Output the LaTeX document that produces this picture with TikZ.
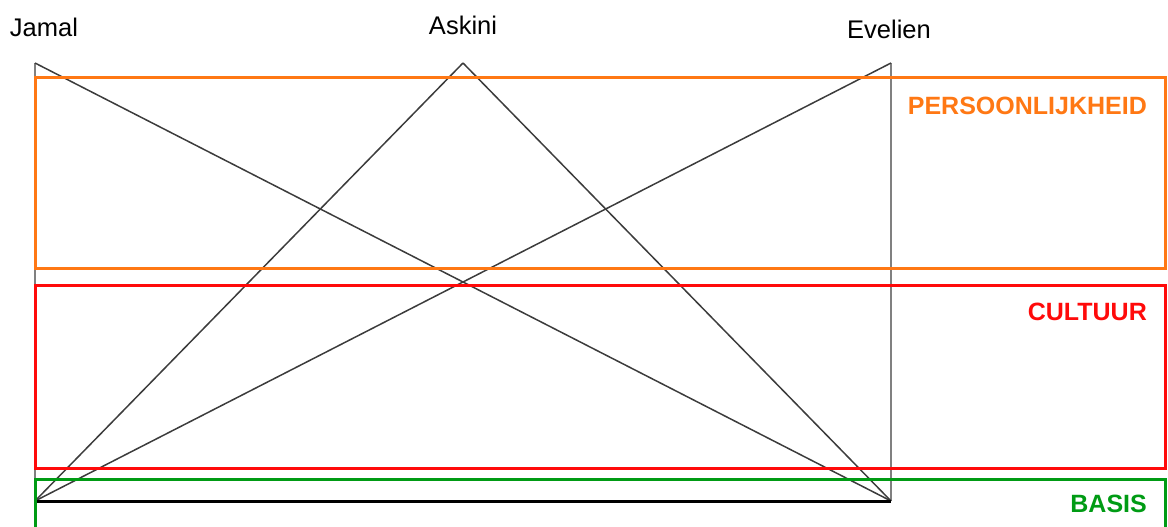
\documentclass[tikz,border=0pt]{standalone}
\usepackage{fontspec}
\setmainfont{Liberation Sans}
\definecolor{persorange}{RGB}{255,120,20}
\definecolor{cultred}{RGB}{255,10,10}
\definecolor{basisgreen}{RGB}{0,155,20}
\definecolor{linegrey}{RGB}{60,60,60}
\tikzset{
  personname/.style={inner sep=0pt, font=\fontsize{25.5}{30}\selectfont, text=black},
  layerlabel/.style={inner sep=0pt, anchor=east, font=\fontsize{25}{30}\selectfont\bfseries},
  tie/.style={draw=linegrey, line width=1.5pt},
  pillar/.style={draw=gray, line width=2.2pt},
  frame/.style={line width=3pt},
}
\begin{document}
\begin{tikzpicture}[x=1pt,y=-1pt]
  \useasboundingbox (0,0) rectangle (1168,527);
  % apexes and base corners
  \coordinate (J) at (35,63);
  \coordinate (A) at (463,63);
  \coordinate (E) at (891,63);
  \coordinate (BL) at (35,501);
  \coordinate (BR) at (891,501);
  % names above the apexes
  \node[personname] (nJ) at (44,27) {Jamal};
  \node[personname] (nA) at (463,25) {Askini};
  \node[personname] (nE) at (889,29) {Evelien};
  % vertical sides
  \draw[pillar] (J) -- (BL);
  \draw[pillar] (E) -- (BR);
  % crossing ties
  \draw[tie] (J) -- (BR);
  \draw[tie] (A) -- (BL);
  \draw[tie] (A) -- (BR);
  \draw[tie] (E) -- (BL);
  % base line
  \draw[line width=3pt, black] (BL) -- (BR);
  % layers
  \draw[frame, persorange] (35,78) rectangle (1165,268);
  \draw[frame, cultred] (35,285) rectangle (1165,468);
  \draw[frame, basisgreen] (35,527) -- (35,479) -- (1165,479) -- (1165,527);
  \node[layerlabel, text=persorange] (lP) at (1147,106) {PERSOONLIJKHEID};
  \node[layerlabel, text=cultred] (lC) at (1147,312) {CULTUUR};
  \node[layerlabel, text=basisgreen] (lB) at (1147,504) {BASIS};
\end{tikzpicture}
\end{document}
